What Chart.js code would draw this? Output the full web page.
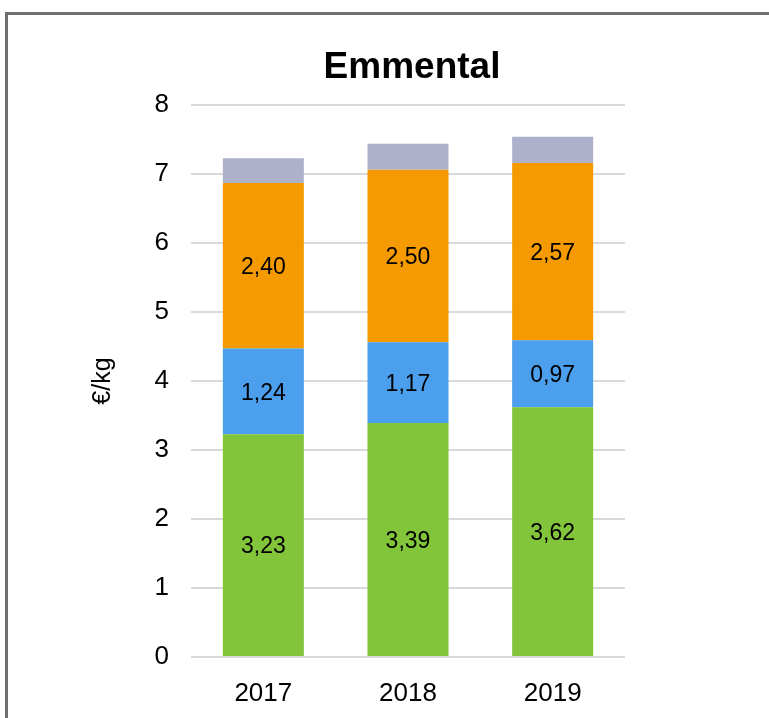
<!DOCTYPE html>
<html>
<head>
<meta charset="utf-8">
<script src="https://cdn.jsdelivr.net/npm/chart.js@4/dist/chart.umd.min.js"></script>
<style>
    body { margin: 0; background: #fff; overflow: hidden; }
    #frame { position: absolute; left: 5px; top: 12px; width: 900px; height: 900px; border: 3px solid #6f6f6f; }
    #wrap { position: absolute; left: 0; top: 0; width: 769px; height: 718px; }
</style>
</head>
<body>
<div id="frame"></div>
<div id="wrap"><canvas id="cheeseChart" width="769" height="718"></canvas></div>
<script>
// Chart data
const years = ['2017', '2018', '2019'];
const greenValues = [3.23, 3.39, 3.62];
const blueValues = [1.24, 1.17, 0.97];
const orangeValues = [2.40, 2.50, 2.57];
const greyValues = [0.36, 0.38, 0.38];
const yTicks = [0, 1, 2, 3, 4, 5, 6, 7, 8];

const FONT = '"Liberation Sans", Arial, sans-serif';

// Title centred over the plot area rather than the whole canvas
const plotTitle = {
    id: 'plotTitle',
    afterDraw(chart) {
        const ctx = chart.ctx;
        const area = chart.chartArea;
        ctx.save();
        ctx.font = 'bold 37px ' + FONT;
        ctx.fillStyle = '#000';
        ctx.textAlign = 'center';
        ctx.textBaseline = 'middle';
        ctx.fillText('Emmental', (area.left + area.right) / 2 + 4, 68);
        ctx.restore();
    }
};

// Draw value labels in the middle of each segment (not for the top grey one)
const segmentLabels = {
    id: 'segmentLabels',
    afterDatasetsDraw(chart) {
        const ctx = chart.ctx;
        ctx.save();
        ctx.font = '23px ' + FONT;
        ctx.fillStyle = '#000';
        ctx.textAlign = 'center';
        ctx.textBaseline = 'middle';
        chart.data.datasets.forEach((ds, i) => {
            if (!ds.showLabels) return;
            chart.getDatasetMeta(i).data.forEach((bar, j) => {
                const txt = ds.data[j].toFixed(2).replace('.', ',');
                ctx.fillText(txt, bar.x, (bar.y + bar.base) / 2 + 2);
            });
        });
        ctx.restore();
    }
};

const ctx = document.getElementById('cheeseChart').getContext('2d');
new Chart(ctx, {
    type: 'bar',
    data: {
        labels: years,
        datasets: [
            { data: greenValues, backgroundColor: '#82c43a', showLabels: true },
            { data: blueValues, backgroundColor: '#4b9fed', showLabels: true },
            { data: orangeValues, backgroundColor: '#f59a00', showLabels: true },
            { data: greyValues, backgroundColor: '#adb1cc', showLabels: false }
        ]
    },
    options: {
        responsive: false,
        animation: false,
        layout: {
            padding: { left: 88, right: 144, top: 105, bottom: 13 }
        },
        datasets: {
            bar: { barPercentage: 0.56, categoryPercentage: 1 }
        },
        plugins: {
            legend: { display: false },
            tooltip: { enabled: false },
            title: { display: false }
        },
        scales: {
            x: {
                stacked: true,
                afterFit(scale) {
                    scale.height = 48;
                },
                grid: { display: false },
                border: { display: false },
                ticks: {
                    color: '#000',
                    padding: 13,
                    font: { family: FONT, size: 26 }
                }
            },
            y: {
                stacked: true,
                min: 0,
                max: 8,
                afterBuildTicks(scale) {
                    scale.ticks = yTicks.map(v => ({ value: v }));
                },
                afterFit(scale) {
                    scale.width = 103;
                },
                grid: { color: '#d9d9d9', lineWidth: 2, drawTicks: false },
                border: { display: false },
                ticks: {
                    color: '#000',
                    padding: 22,
                    font: { family: FONT, size: 26 }
                },
                title: {
                    display: true,
                    text: '€/kg',
                    color: '#000',
                    padding: 0,
                    font: { family: FONT, size: 25 }
                }
            }
        }
    },
    plugins: [segmentLabels, plotTitle]
});
</script>
</body>
</html>
